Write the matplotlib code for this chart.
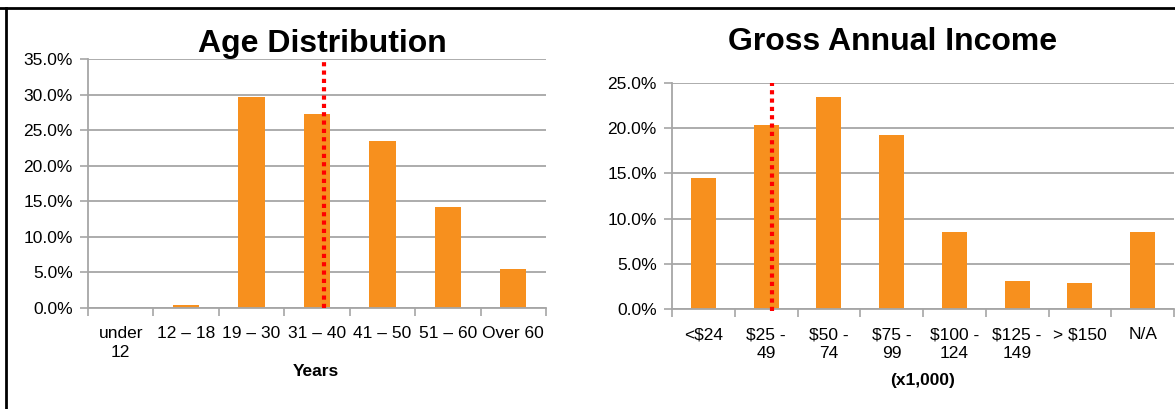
import matplotlib
matplotlib.use("Agg")
import matplotlib.pyplot as plt
from matplotlib.lines import Line2D
from matplotlib.ticker import PercentFormatter, MultipleLocator, FixedLocator

plt.rcParams['font.family'] = ['Liberation Sans', 'DejaVu Sans']

# data (percent)
age_labels = ["under\n12", "12 – 18", "19 – 30", "31 – 40", "41 – 50", "51 – 60", "Over 60"]
age_values = [0.0, 0.4, 29.6, 27.3, 23.5, 14.2, 5.5]
age_median = 3.1  # position in category units

income_labels = ["<$24", "$25 -\n49", "$50 -\n74", "$75 -\n99", "$100 -\n124", "$125 -\n149", "> $150", "N/A"]
income_values = [14.5, 20.3, 23.5, 19.3, 8.5, 3.1, 2.9, 8.5]
income_median = 1.09

W, H = 1175, 409
BAR = "#F7901E"
GRID = "#a6a6a6"

fig = plt.figure(figsize=(W / 100, H / 100), dpi=100)


def px_axes(x0, x1, ytop, ybot):
    return fig.add_axes([x0 / W, 1 - ybot / H, (x1 - x0) / W, (ybot - ytop) / H])


def style(ax, labels, ymax, step):
    n = len(labels)
    ax.set_xlim(-0.5, n - 0.5)
    ax.set_ylim(0, ymax)
    ax.yaxis.set_major_locator(MultipleLocator(step))
    ax.yaxis.set_major_formatter(PercentFormatter(decimals=1))
    ax.set_xticks(range(n))
    ax.set_xticklabels(labels, linespacing=1.35)
    ax.xaxis.set_minor_locator(FixedLocator([i - 0.5 for i in range(n + 1)]))
    ax.tick_params(axis='x', which='major', length=0, pad=13, labelsize=12.5)
    ax.tick_params(axis='x', which='minor', length=6, color=GRID, width=1.2, direction='out')
    ax.tick_params(axis='y', length=6, color=GRID, width=1.2, labelsize=12.5, pad=5)
    ax.grid(axis='y', color=GRID, linewidth=1.3)
    ax.set_axisbelow(True)
    for s in ('top', 'right'):
        ax.spines[s].set_visible(False)
    for s in ('left', 'bottom'):
        ax.spines[s].set_color(GRID)
        ax.spines[s].set_linewidth(1.3)


# left chart
ax1 = px_axes(88, 546, 59, 308)
ax1.bar(range(len(age_values)), age_values, width=0.4, color=BAR, zorder=2)
style(ax1, age_labels, 35, 5)
ax1.plot([age_median, age_median], [0, 34.6], color='#ff0000', linestyle=(0, (1, 1)),
         linewidth=3, zorder=3, clip_on=False)

# right chart
ax2 = px_axes(672, 1174, 83, 309)
ax2.bar(range(len(income_values)), income_values, width=0.4, color=BAR, zorder=2)
style(ax2, income_labels, 25, 5)
ax2.plot([income_median, income_median], [-0.2, 25], color='#ff0000', linestyle=(0, (1, 1)),
         linewidth=3, zorder=3, clip_on=False)

# titles and axis captions
fig.text(322 / W, 1 - 52 / H, "Age Distribution", ha='center', va='baseline',
         fontsize=23, fontweight='bold')
fig.text(893 / W, 1 - 50 / H, "Gross Annual Income", ha='center', va='baseline',
         fontsize=23, fontweight='bold')
fig.text(316 / W, 1 - 376 / H, "Years", ha='center', va='baseline',
         fontsize=12.5, fontweight='bold')
fig.text(923 / W, 1 - 385 / H, "(x1,000)", ha='center', va='baseline',
         fontsize=12.5, fontweight='bold')

# frame lines
fig.add_artist(Line2D([0, 1], [1 - 8 / H, 1 - 8 / H], color='black', linewidth=2,
                      transform=fig.transFigure))
fig.add_artist(Line2D([6 / W, 6 / W], [0, 1 - 8 / H], color='black', linewidth=2,
                      transform=fig.transFigure))

fig.savefig("out.png", dpi=100)
